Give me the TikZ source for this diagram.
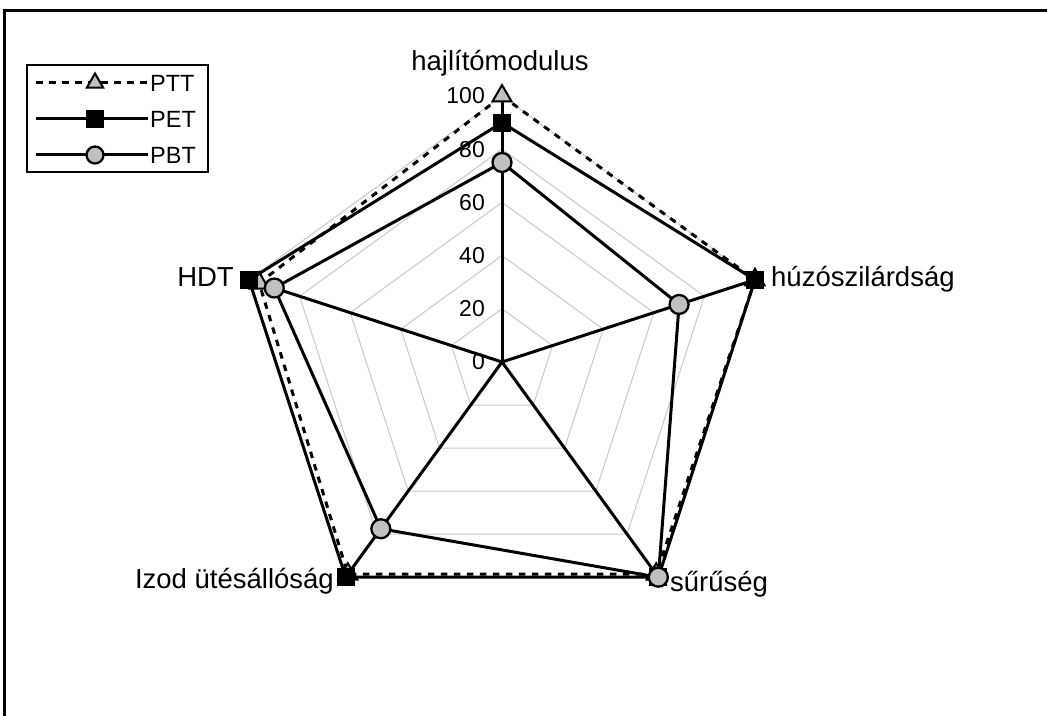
\documentclass[tikz,border=0pt]{standalone}
\usepackage{fontspec}
\setmainfont{Liberation Sans}
\usetikzlibrary{shapes.geometric}
\definecolor{mgray}{RGB}{192,192,192}
\definecolor{gridgray}{RGB}{200,200,200}
\begin{document}
\begin{tikzpicture}[x=1pt,y=1pt,
  gridline/.style={draw=gridgray, line width=1pt},
  spoke/.style={draw=black, line width=3pt},
  serline/.style={draw=black, line width=3pt, line join=miter},
  dashline/.style={serline, dash pattern=on 6.5pt off 6.5pt},
  trimark/.style={regular polygon, regular polygon sides=3, minimum size=22pt, inner sep=0pt, draw=black, line width=2pt, fill=mgray},
  sqmark/.style={rectangle, minimum size=17pt, inner sep=0pt, fill=black, draw=black, line width=1pt},
  cimark/.style={circle, minimum size=19pt, inner sep=0pt, draw=black, line width=2.3pt, fill=mgray},
  catlabel/.style={font=\fontsize{27.5}{33}\selectfont, inner sep=0pt},
  numlabel/.style={font=\fontsize{23}{27}\selectfont, inner sep=0pt, anchor=east},
  leglabel/.style={font=\fontsize{23.5}{28}\selectfont, inner sep=0pt, anchor=west}
]
\useasboundingbox (0,0) rectangle (1047,715);
% outer frame
\draw[line width=2.5pt] (4.5,-10) -- (4.5,704.5) -- (1060,704.5);

\begin{scope}[shift={(502,353)}, x=2.66pt, y=2.66pt]
  \coordinate (O) at (0,0);
  \foreach \a [count=\i] in {90,18,-54,-126,162} \coordinate (ax\i) at (\a:100);
  % grid
  \foreach \r in {20,40,60,80,100}
    \draw[gridline] (90:\r) -- (18:\r) -- (-54:\r) -- (-126:\r) -- (162:\r) -- cycle;
  % spokes
  \foreach \i in {1,...,5} \draw[spoke] (O) -- (ax\i);
  % value labels
  \foreach \v in {0,20,40,60,80,100}
    \node[numlabel, xshift=-17pt] (n\v) at (0,\v) {\v};

  % PTT
  \coordinate (ptt1) at (90:100);
  \coordinate (ptt2) at (18:100);
  \coordinate (ptt3) at (-54:98.6);
  \coordinate (ptt4) at (-126:98.6);
  \coordinate (ptt5) at (162:96);
  \draw[dashline] (ptt1) -- (ptt2) -- (ptt3) -- (ptt4) -- (ptt5) -- cycle;
  \foreach \i in {1,...,5} \node[trimark] (pttm\i) at (ptt\i) {};

  % PET
  \coordinate (pet1) at (90:90);
  \coordinate (pet2) at (18:100);
  \coordinate (pet3) at (-54:100);
  \coordinate (pet4) at (-126:100);
  \coordinate (pet5) at (162:100);
  \draw[serline] (pet1) -- (pet2) -- (pet3) -- (pet4) -- (pet5) -- cycle;
  \foreach \i in {1,...,5} \node[sqmark] (petm\i) at (pet\i) {};

  % PBT
  \coordinate (pbt1) at (90:75);
  \coordinate (pbt2) at (18:70);
  \coordinate (pbt3) at (-54:100);
  \coordinate (pbt4) at (-126:77.5);
  \coordinate (pbt5) at (162:90);
  \draw[serline] (pbt1) -- (pbt2) -- (pbt3) -- (pbt4) -- (pbt5) -- cycle;
  \foreach \i in {1,...,5} \node[cimark] (pbtm\i) at (pbt\i) {};
\end{scope}

% category labels
\node[catlabel, anchor=base] (lab1) at (500,644) {hajlítómodulus};
\node[catlabel, anchor=base west] (lab2) at (771,428) {húzószilárdság};
\node[catlabel, anchor=base west] (lab3) at (670,123) {sűrűség};
\node[catlabel, anchor=base east] (lab4) at (334,126) {Izod ütésállóság};
\node[catlabel, anchor=base east] (lab5) at (234,428) {HDT};

% legend
\draw[line width=2.2pt] (27,650) rectangle (208,543);
\coordinate (l1a) at (36,632); \coordinate (l1b) at (148,632);
\coordinate (l2a) at (36,596); \coordinate (l2b) at (148,596);
\coordinate (l3a) at (36,560); \coordinate (l3b) at (148,560);
\draw[dashline] (l1a) -- (l1b);
\node[trimark, minimum size=19pt] (lm1) at (95,632) {};
\draw[serline] (l2a) -- (l2b);
\node[sqmark] (lm2) at (95,596) {};
\draw[serline] (l3a) -- (l3b);
\node[cimark, minimum size=17pt] (lm3) at (95,560) {};
\node[leglabel] (lt1) at (150,632) {PTT};
\node[leglabel] (lt2) at (150,596) {PET};
\node[leglabel] (lt3) at (150,560) {PBT};
\end{tikzpicture}
\end{document}
